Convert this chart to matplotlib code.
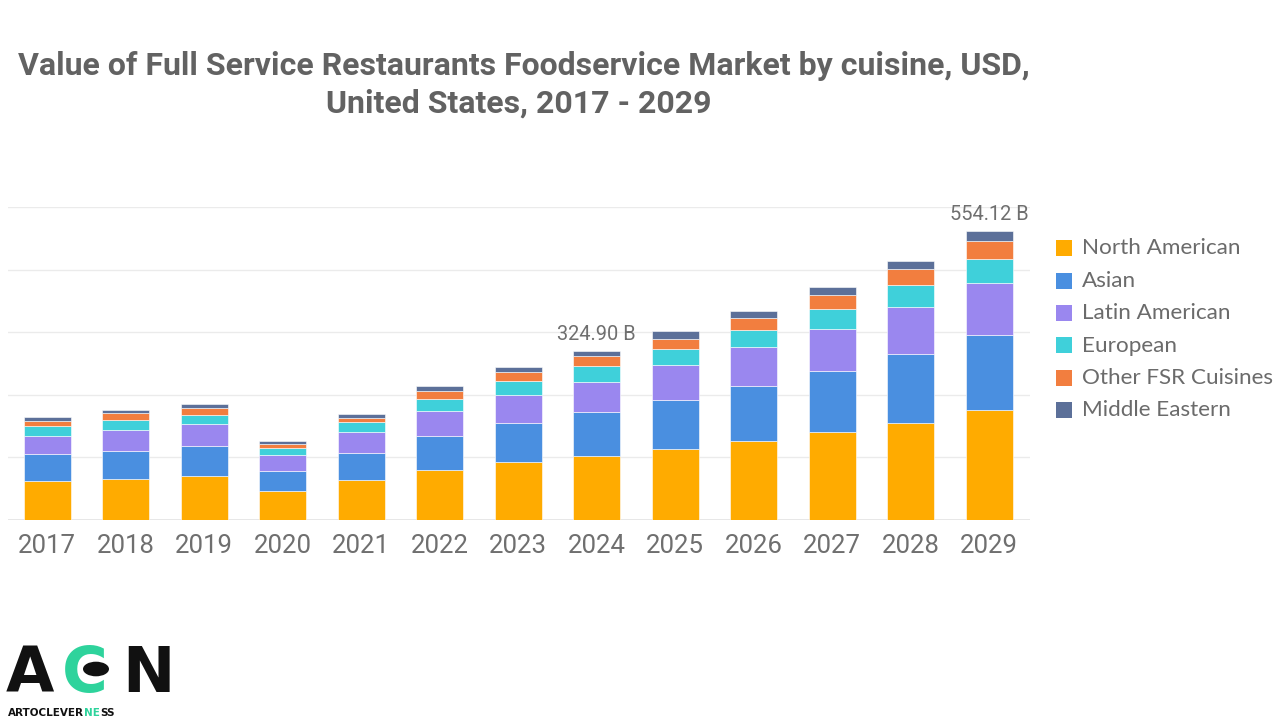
import matplotlib
matplotlib.use("Agg")
import matplotlib.pyplot as plt
from matplotlib.patches import Rectangle, Circle
import numpy as np

years = ["2017", "2018", "2019", "2020", "2021", "2022", "2023", "2024", "2025", "2026", "2027", "2028", "2029"]
series_names = ["North American", "Asian", "Latin American", "European", "Other FSR Cuisines", "Middle Eastern"]
colors = ["#FFAB00", "#4A8FE0", "#9A87EF", "#3FD0DA", "#F27E3F", "#5C7099"]

north_american = [75.5, 79.3, 85.1, 56.3, 77.4, 96.6, 111.4, 122.6, 136.3, 151.1, 168.4, 186.8, 210.42]
asian = [50.7, 53.8, 56.4, 38.4, 51.3, 65.3, 74.9, 84.5, 94.1, 105.6, 116.4, 131.9, 144.0]
latin_american = [35.7, 40.3, 42.2, 29.6, 39.7, 46.8, 52.4, 58.2, 66.6, 74.1, 82.0, 88.9, 100.6]
european = [19.2, 19.2, 17.3, 14.0, 19.2, 23.6, 27.6, 29.6, 30.7, 34.0, 38.4, 42.2, 46.1]
other_fsr = [9.6, 12.8, 14.6, 7.1, 8.8, 15.9, 16.5, 19.2, 19.8, 23.0, 25.5, 31.5, 33.2]
middle_eastern = [7.7, 5.8, 7.7, 5.8, 7.7, 9.0, 10.4, 10.8, 14.0, 12.9, 15.4, 15.9, 19.8]
labeled_years = ["2024", "2029"]

series = [north_american, asian, latin_american, european, other_fsr, middle_eastern]

fig = plt.figure(figsize=(12.8, 7.2), dpi=100)
ax = fig.add_axes([8/1280, 1 - 520/720, 1022/1280, 313/720])

x = np.arange(len(years))
bottom = np.zeros(len(years))
for vals, c in zip(series, colors):
    ax.bar(x, vals, width=0.595, bottom=bottom, color=c, edgecolor="white", linewidth=0.4, zorder=3)
    bottom += np.array(vals)

totals = bottom
for yr in labeled_years:
    i = years.index(yr)
    ax.text(x[i], totals[i] + 13, f"{totals[i]:.2f} B", ha="center", va="bottom",
            fontsize=14.4, color="#6f6f6f", family="Roboto", zorder=4, clip_on=False)

ax.set_xlim(-0.5, 12.52)
ax.set_ylim(0, 600)
ax.set_yticks(np.arange(0, 601, 120))
ax.set_yticklabels([])
ax.tick_params(axis="y", length=0)
ax.grid(axis="y", color="#ebebeb", linewidth=1, zorder=0)
ax.set_xticks(x)
ax.set_xticklabels(years, fontsize=18.5, color="#6f6f6f", family="Roboto")
ax.tick_params(axis="x", length=0, pad=10)
for s in ax.spines.values():
    s.set_visible(False)
ax.axhline(0, color="#e3e3e3", linewidth=1.2, zorder=2)

# title
fig.text(524/1280, 1 - 66/720, "Value of Full Service Restaurants Foodservice Market by cuisine, USD,",
         ha="center", va="center", fontsize=23, fontweight="bold", color="#626262", family="Roboto")
fig.text(519/1280, 1 - 104/720, "United States, 2017 - 2029",
         ha="center", va="center", fontsize=23, fontweight="bold", color="#626262", family="Roboto")

# legend
leg_y = [248, 280.5, 313, 345.5, 378, 410]
for name, c, yy in zip(series_names, colors, leg_y):
    fig.add_artist(Rectangle((1056/1280, 1 - (yy + 8)/720), 16/1280, 16/720,
                             transform=fig.transFigure, facecolor=c, edgecolor="none"))
    fig.text(1082/1280, 1 - yy/720, name, ha="left", va="center", fontsize=16.2,
             color="#6b6b6b", family="Lato")

# logo
big = dict(ha="left", va="baseline", fontsize=45, fontweight="heavy", family="DejaVu Sans")
fig.text(6/1280, 1 - 692/720, "A", color="#111111", **big)
fig.text(62/1280, 1 - 692/720, "C", color="#2ED39C", **big)
fig.add_artist(Circle((96/1280, 1 - 669/720), 13/1280, transform=fig.transFigure,
                      facecolor="#111111", edgecolor="none"))
fig.text(122/1280, 1 - 692/720, "N", color="#111111", **big)

fig.canvas.draw()
renderer = fig.canvas.get_renderer()
xpos = 8
for part, col in [("ARTOCLEVER", "#111111"), ("NE", "#2ED39C"), ("SS", "#111111")]:
    t = fig.text(xpos/1280, 1 - 716/720, part, ha="left", va="baseline", fontsize=7.5,
                 fontweight="bold", color=col, family="DejaVu Sans")
    bb = t.get_window_extent(renderer)
    xpos += bb.width

fig.savefig("out.png", dpi=100, facecolor="white")
